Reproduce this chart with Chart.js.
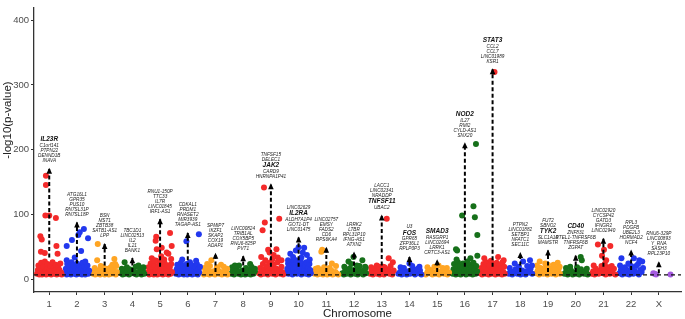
<!DOCTYPE html>
<html>
<head>
<meta charset="utf-8">
<script src="https://cdn.jsdelivr.net/npm/chart.js@4.4.1/dist/chart.umd.min.js"></script>
<style>
  html, body { margin: 0; padding: 0; background: #fff; }
</style>
</head>
<body>
<canvas id="manhattan" width="685" height="319"></canvas>
<script>
const chromosomes = ['1','2','3','4','5','6','7','8','9','10','11','12','13','14','15','16','17','18','19','20','21','22','X'];
const threshold = 7.3;

// significant SNPs per chromosome: [position within chromosome slot, -log10(p)]
const chr1 = [[-.44,9],[-.41,15],[-.39,22],[-.36,8],[-.34,18],[-.31,11],[-.29,26],[-.26,8],[-.24,14],[-.21,20],[-.19,10],[-.16,28],[-.13,13],[-.11,8],[-.08,18],[-.06,24],[-.03,11],[-.01,9],[.02,16],[.04,21],[.07,8],[.09,13],[.12,27],[.14,10],[.17,18],[.19,9],[.22,14],[.24,23],[.27,8],[.29,12],[.32,19],[.35,9],[.37,15],[.4,25],[.43,11],[.45,8],
  [-.3,43],[-.32,67],[-.27,62],[-.12,160],[-.12,146],[-.14,99],[0,99],[.24,95],[.26,52],[-.16,41],[.3,40]];
const chr2 = [[-.43,10],[-.4,17],[-.37,8],[-.35,24],[-.32,12],[-.3,9],[-.27,19],[-.25,14],[-.22,8],[-.2,27],[-.17,11],[-.15,16],[-.12,22],[-.1,9],[-.07,13],[-.05,18],[-.02,8],[0,25],[.03,12],[.05,15],[.08,9],[.1,21],[.13,11],[.15,17],[.18,8],[.2,26],[.23,13],[.25,10],[.28,20],[.3,8],[.33,15],[.35,11],[.38,22],[.41,9],[.44,14],
  [-.37,52],[-.37,30],[-.18,61],[-.08,34],[.05,69],[.1,73],[.25,78],[.4,64],[.15,44],[.3,28]];
const chr3 = [[-.42,9],[-.38,13],[-.34,8],[-.3,11],[-.25,9],[-.2,15],[-.16,8],[-.11,10],[-.06,12],[0,8],[.05,9],[.1,14],[.15,8],[.2,11],[.25,9],[.3,16],[.35,10],[.4,8],[.44,12],
  [-.36,18],[-.14,21],[.08,17],[.22,19],[.38,24],
  [-.27,30],[-.25,55],[.35,32],[.42,21],[.28,23],[-.05,19]];
const chr4 = [[-.4,10],[-.35,8],[-.3,14],[-.25,9],[-.18,12],[-.12,8],[-.05,10],[.02,15],[.08,9],[.15,8],[.2,12],[.27,10],[.33,8],[.38,14],[.43,9],
  [-.38,17],[-.1,16],[.22,22],[.4,19],
  [-.28,27],[-.2,19],[.12,20],[.3,18],[.05,12]];
const chr5 = [[-.44,11],[-.42,19],[-.39,8],[-.36,14],[-.34,25],[-.31,9],[-.28,17],[-.26,12],[-.23,8],[-.21,22],[-.18,10],[-.15,15],[-.13,29],[-.1,8],[-.08,19],[-.05,12],[-.03,24],[0,9],[.02,16],[.05,27],[.07,10],[.1,8],[.12,20],[.15,13],[.17,25],[.2,9],[.22,17],[.25,11],[.27,22],[.3,8],[.32,14],[.35,19],[.38,9],[.4,24],[.43,12],
  [-.14,66],[-.16,60],[.42,52],[-.12,47],[.06,49],[.24,42],[.3,40],[.04,36],[.36,72],[-.3,33],[.15,31],[-.2,30],[.4,32]];
const chr6 = [[-.43,9],[-.4,16],[-.38,23],[-.35,11],[-.33,8],[-.3,19],[-.27,13],[-.25,26],[-.22,9],[-.2,15],[-.17,21],[-.14,8],[-.12,12],[-.09,18],[-.07,10],[-.04,24],[-.02,8],[.01,14],[.03,20],[.06,9],[.08,27],[.11,12],[.13,17],[.16,8],[.18,22],[.21,11],[.23,15],[.26,9],[.28,19],[.31,13],[.33,24],[.36,8],[.39,16],[.41,11],[.44,20],
  [-.2,31],[-.05,59],[.4,70],[.3,29]];
const chr7 = [[-.42,8],[-.37,12],[-.32,9],[-.27,15],[-.22,8],[-.17,11],[-.12,9],[-.07,13],[-.02,8],[.03,10],[.08,16],[.13,9],[.18,12],[.23,8],[.28,11],[.33,9],[.38,13],[.43,8],
  [-.4,18],[-.2,21],[.05,19],[.2,23],[.42,17],
  [-.15,30],[-.3,24],[.3,20],[.35,15]];
const chr8 = [[-.43,9],[-.38,13],[-.33,8],[-.28,11],[-.23,16],[-.18,9],[-.13,12],[-.08,8],[-.03,14],[.02,10],[.07,8],[.12,13],[.17,9],[.22,15],[.27,8],[.32,11],[.37,9],[.42,13],
  [-.4,19],[-.15,22],[.1,18],[.25,24],
  [.3,20],[-.3,22],[.42,17]];
const chr9 = [[-.43,10],[-.39,18],[-.36,8],[-.32,13],[-.29,24],[-.25,9],[-.22,16],[-.18,11],[-.15,21],[-.11,8],[-.08,14],[-.04,26],[-.01,10],[.03,18],[.06,9],[.1,23],[.13,12],[.17,8],[.2,17],[.24,27],[.27,10],[.31,15],[.34,9],[.38,20],[.41,12],[.44,8],
  [-.25,142],[-.22,88],[-.3,76],[.3,94],[-.1,46],[.2,47],[-.05,42],[.1,38],[-.35,35],[.38,30],[-.2,30],[.25,34],[.05,31]];
const chr10 = [[-.44,10],[-.41,17],[-.38,25],[-.36,9],[-.33,14],[-.3,21],[-.28,12],[-.25,28],[-.22,8],[-.2,16],[-.17,23],[-.14,11],[-.12,19],[-.09,30],[-.06,9],[-.04,15],[-.01,24],[.02,12],[.04,20],[.07,29],[.1,8],[.12,17],[.15,25],[.18,11],[.2,14],[.23,22],[.26,9],[.28,27],[.31,13],[.34,19],[.36,8],[.39,24],[.42,15],[.44,10],
  [0,50],[-.1,45],[.2,49],[-.3,40],[.3,38],[-.2,35],[.1,34],[.4,31],[-.38,30],[.15,42]];
const chr11 = [[-.42,9],[-.37,13],[-.32,8],[-.27,11],[-.22,9],[-.17,15],[-.12,8],[-.07,10],[-.02,13],[.03,8],[.08,11],[.13,9],[.18,14],[.23,8],[.28,10],[.33,12],[.38,9],[.43,8],
  [-.38,17],[-.08,19],[.12,18],[.35,21],
  [-.15,46],[-.18,43],[.2,25],[-.3,18]];
const chr12 = [[-.42,10],[-.37,8],[-.32,14],[-.27,9],[-.22,12],[-.17,17],[-.12,8],[-.07,11],[-.02,15],[.03,9],[.08,13],[.13,8],[.18,16],[.23,10],[.28,12],[.33,8],[.38,15],[.43,10],
  [-.35,20],[-.1,24],[.2,21],[.42,18],
  [-.02,35],[-.2,28],[.3,30],[.1,22],[.4,20]];
const chr13 = [[-.42,9],[-.37,14],[-.32,8],[-.27,11],[-.22,17],[-.17,9],[-.12,12],[-.07,8],[-.02,15],[.03,10],[.08,8],[.13,13],[.18,11],[.23,16],[.28,9],[.33,12],[.38,8],[.43,14],
  [-.38,19],[-.18,22],[.05,20],[.32,21],
  [.18,94],[.25,33],[.4,27],[-.1,20],[.1,19]];
const chr14 = [[-.4,9],[-.34,12],[-.28,8],[-.22,15],[-.16,10],[-.1,8],[-.04,13],[.02,9],[.08,11],[.14,16],[.2,8],[.26,12],[.32,10],[.38,14],[.43,8],
  [-.32,19],[.1,21],[.36,20],
  [0,25],[-.2,18],[.3,17]];
const chr15 = [[-.41,8],[-.35,12],[-.29,10],[-.23,15],[-.17,8],[-.11,11],[-.05,9],[.01,13],[.07,8],[.13,10],[.19,14],[.25,9],[.31,12],[.37,8],[.43,11],
  [-.35,19],[.05,22],[.35,18],
  [-.1,20],[.2,18]];
const chr16 = [[-.44,9],[-.41,16],[-.39,24],[-.36,11],[-.33,8],[-.31,19],[-.28,13],[-.25,27],[-.23,9],[-.2,15],[-.17,21],[-.15,8],[-.12,12],[-.09,18],[-.07,25],[-.04,10],[-.01,14],[.01,22],[.04,8],[.07,17],[.09,28],[.12,11],[.15,15],[.17,9],[.2,23],[.23,13],[.25,19],[.28,8],[.31,26],[.33,12],[.36,16],[.39,9],[.41,21],[.44,13],
  [.4,209],[.31,113],[-.1,99],[.36,96],[.45,69],[.45,37],[-.32,47],[-.28,45],[-.3,31],[.2,33]];
const chr17 = [[-.44,10],[-.41,18],[-.38,8],[-.36,14],[-.33,24],[-.3,11],[-.28,19],[-.25,9],[-.22,27],[-.2,13],[-.17,16],[-.14,8],[-.12,22],[-.09,12],[-.06,29],[-.04,9],[-.01,17],[.02,24],[.04,11],[.07,14],[.1,8],[.12,20],[.15,26],[.18,10],[.2,16],[.23,9],[.26,23],[.28,13],[.31,18],[.34,8],[.36,27],[.39,12],[.42,20],[.44,9],
  [.07,320],[-.3,33],[.2,35],[.4,30]];
const chr18 = [[-.41,9],[-.35,13],[-.29,8],[-.23,11],[-.17,16],[-.11,9],[-.05,12],[.01,8],[.07,14],[.13,10],[.19,8],[.25,13],[.31,11],[.37,17],[.43,9],
  [-.38,18],[-.05,20],[.42,22],
  [-.2,25],[.1,28],[.35,30],[.25,21]];
const chr19 = [[-.42,10],[-.37,14],[-.32,8],[-.27,18],[-.22,11],[-.17,9],[-.12,15],[-.07,20],[-.02,8],[.03,12],[.08,17],[.13,9],[.18,13],[.23,19],[.28,8],[.33,11],[.38,16],[.43,9],
  [-.4,22],[.0,23],[.42,20],
  [-.3,28],[-.1,25],[.2,23],[.35,26]];
const chr20 = [[-.41,9],[-.35,12],[-.29,8],[-.23,10],[-.17,14],[-.11,8],[-.05,11],[.01,9],[.07,13],[.13,8],[.19,16],[.25,10],[.31,9],[.37,13],[.43,8],
  [-.35,18],[.05,19],[.4,17],
  [.18,35],[.22,30],[-.2,20]];
const chr21 = [[-.42,9],[-.37,13],[-.32,8],[-.27,17],[-.22,11],[-.17,9],[-.12,14],[-.07,21],[-.02,10],[.03,16],[.08,8],[.13,12],[.18,19],[.23,9],[.28,14],[.33,10],[.38,17],[.43,8],
  [-.35,22],[.05,24],[.3,21],
  [-.2,54],[.25,52],[-.05,37],[.02,46],[.1,30]];
const chr22 = [[-.42,10],[-.37,15],[-.32,8],[-.27,12],[-.22,19],[-.17,9],[-.12,14],[-.07,8],[-.02,11],[.03,17],[.08,9],[.13,13],[.18,21],[.23,10],[.28,8],[.33,15],[.38,12],[.43,18],
  [-.4,22],[.0,21],[.25,24],
  [-.35,33],[.1,33],[.3,30],[-.1,25],[.4,28]];
const chrX = [[-.2,10],[-.15,9],[-.1,8],[.42,8]];
const snpsByChr = [chr1, chr2, chr3, chr4, chr5, chr6, chr7, chr8, chr9, chr10, chr11, chr12, chr13, chr14, chr15, chr16, chr17, chr18, chr19, chr20, chr21, chr22, chrX];

// lead loci: arrow start / end (-log10 p) and annotated genes
const arrowFrom = [34, 25, 12, 12, 20, 20, 12, 12, 20, 20, 12, 12, 12, 12, 12, 20, 20, 12, 12, 12, 20, 15, 10];
const arrowTo = [171, 88, 55, 33, 93, 72, 40, 36, 147, 65, 49, 42, 99, 35, 30, 210, 324, 41, 45, 37, 63, 45, 27];
const locusGenes = [
  ['IL23R','C1orf141','PTPN22','DENND1B','INAVA'],
  ['ATG16L1','GPR35','PUS10','RN7SL31P','RN7SL18P'],
  ['BSN','MST1','ZBTB38','SATB1-AS1','LPP'],
  ['TBC1D1','LINC02513','IL2','IL21','BANK1'],
  ['RNU1-150P','TTC33','IL7R','LINC01845','IRF1-AS1'],
  ['CDKAL1','PRDM1','RNASET2','MIR3939','TAGAP-AS1'],
  ['SPMIP7','IKZF1','SKAP2','COX19','ADAP1'],
  ['LINC00824','TRIB1AL','COX5BP5','RNU6-825P','PVT1'],
  ['TNFSF15','DELEC1','JAK2','CARD9','HNRNPA1P41'],
  ['LINC02629','IL2RA','ALDH7A1P4','GOT1-DT','LINC01475'],
  ['LINC02757','EMSY','FADS2','CD6','RPS6KA4'],
  ['LRRK2','LTBR','RPL31P10','IFNG-AS1','ATXN2'],
  ['LACC1','LINC02341','NRADDP','TNFSF11','UBAC2'],
  ['U3','FOS','GPR65','ZFP36L1','RPLP0P3'],
  ['SMAD3','RASGRP1','LINC02694','LRRK1','CRTC3-AS1'],
  ['NOD2','IL27','RMI2','CYLD-AS1','SNX20'],
  ['STAT3','CCL2','CCL7','LINC01989','KSR1'],
  ['PTPN2','LINC01882','SETBP1','NFATC1','SEC11C'],
  ['FUT2','SBNO2','TYK2','SLC1A10','MAMSTR'],
  ['CD40','ZNF831','RTEL1-TNFRSF6B','TNFRSF6B','ZGPAT'],
  ['LINC02920','CYCSP42','GATD3','IFNGR2','LINC02940'],
  ['RPL3','PDGFB','UBE2L3','HORMAD2','NCF4'],
  ['RNU6-329P','LINC00893','Y_RNA','SASH3','RPL23P10']
];
const keyGenes = ['IL23R','JAK2','IL2RA','TNFSF11','FOS','SMAD3','NOD2','STAT3','TYK2','CD40'];

const palette = ['#F42A2A', '#2238EE', '#FFA523', '#16701A'];
const colorX = '#A45BDF';
const xMin = 0.45, xMax = 23.8;

const datasets = [];
snpsByChr.forEach((snps, i) => {
  const col = i === 22 ? colorX : palette[i % 4];
  datasets.push({
    type: 'scatter',
    data: snps.map(p => ({ x: i + 1 + p[0], y: p[1] })),
    backgroundColor: col,
    borderWidth: 0,
    pointRadius: 3,
    order: 2
  });
});
datasets.push({
  type: 'line',
  data: [{ x: xMin, y: threshold }, { x: xMax, y: threshold }],
  borderColor: '#111',
  borderWidth: 1.3,
  borderDash: [4, 3],
  pointRadius: 0,
  order: 1
});
arrowTo.forEach((top, i) => {
  datasets.push({
    type: 'line',
    data: [{ x: i + 1, y: arrowFrom[i] }, { x: i + 1, y: top }],
    borderColor: '#000',
    borderWidth: 2,
    borderDash: [4, 2.5],
    pointRadius: 0,
    order: 0
  });
});

const annotate = {
  id: 'annotate',
  afterDatasetsDraw(chart) {
    const { ctx, scales: { x, y } } = chart;
    ctx.save();
    arrowTo.forEach((top, i) => {
      const px = x.getPixelForValue(i + 1);
      const py = y.getPixelForValue(top);
      // arrow head
      ctx.fillStyle = '#000';
      ctx.beginPath();
      ctx.moveTo(px, py - 1);
      ctx.lineTo(px - 2.8, py + 5);
      ctx.lineTo(px + 2.8, py + 5);
      ctx.closePath();
      ctx.fill();
      // gene labels, bottom line first
      const genes = locusGenes[i];
      let ly = py - 8;
      ctx.textAlign = 'center';
      ctx.textBaseline = 'middle';
      for (let k = genes.length - 1; k >= 0; k--) {
        const bold = keyGenes.includes(genes[k]);
        ctx.font = bold ? 'italic bold 6.5px "Liberation Sans", Arial' : 'italic 4.7px "Liberation Sans", Arial';
        ctx.fillStyle = bold ? '#111' : '#222';
        ctx.fillText(genes[k], px, ly);
        const nextBold = k > 0 && keyGenes.includes(genes[k - 1]);
        ly -= (bold || nextBold) ? 6 : 5;
      }
    });
    // y axis title
    ctx.translate(8, 120);
    ctx.rotate(-Math.PI / 2);
    ctx.font = '11.5px "Liberation Sans", Arial';
    ctx.fillStyle = '#1a1a1a';
    ctx.textAlign = 'center';
    ctx.fillText('-log10(p-value)', 0, 0);
    ctx.restore();
  }
};

new Chart(document.getElementById('manhattan'), {
  type: 'scatter',
  data: { datasets },
  options: {
    responsive: false,
    animation: false,
    devicePixelRatio: 1,
    layout: { padding: { top: 3, right: 0, left: 0, bottom: 0 } },
    plugins: { legend: { display: false }, tooltip: { enabled: false } },
    scales: {
      x: {
        type: 'linear',
        min: xMin,
        max: xMax,
        afterBuildTicks: s => { s.ticks = chromosomes.map((c, i) => ({ value: i + 1 })); },
        afterFit: s => { s.height = 27; },
        ticks: {
          callback: (v, i) => chromosomes[i],
          autoSkip: false,
          maxRotation: 0,
          color: '#4d4d4d',
          font: { family: '"Liberation Sans", Arial', size: 9.5 },
          padding: 4
        },
        grid: { drawOnChartArea: false, tickLength: 3, color: '#333' },
        border: { color: '#333', width: 1.3 },
        title: {
          display: true,
          text: 'Chromosome',
          color: '#1a1a1a',
          font: { family: '"Liberation Sans", Arial', size: 11.5 },
          padding: { top: 0, bottom: -2 }
        }
      },
      y: {
        min: -19,
        max: 419,
        afterBuildTicks: s => { s.ticks = [0, 100, 200, 300, 400].map(v => ({ value: v })); },
        afterFit: s => { s.width = 34; },
        ticks: {
          color: '#4d4d4d',
          font: { family: '"Liberation Sans", Arial', size: 9.5 },
          padding: 2
        },
        grid: { drawOnChartArea: false, tickLength: 3, color: '#333' },
        border: { color: '#333', width: 1.3 }
      }
    }
  },
  plugins: [annotate]
});
</script>
</body>
</html>
